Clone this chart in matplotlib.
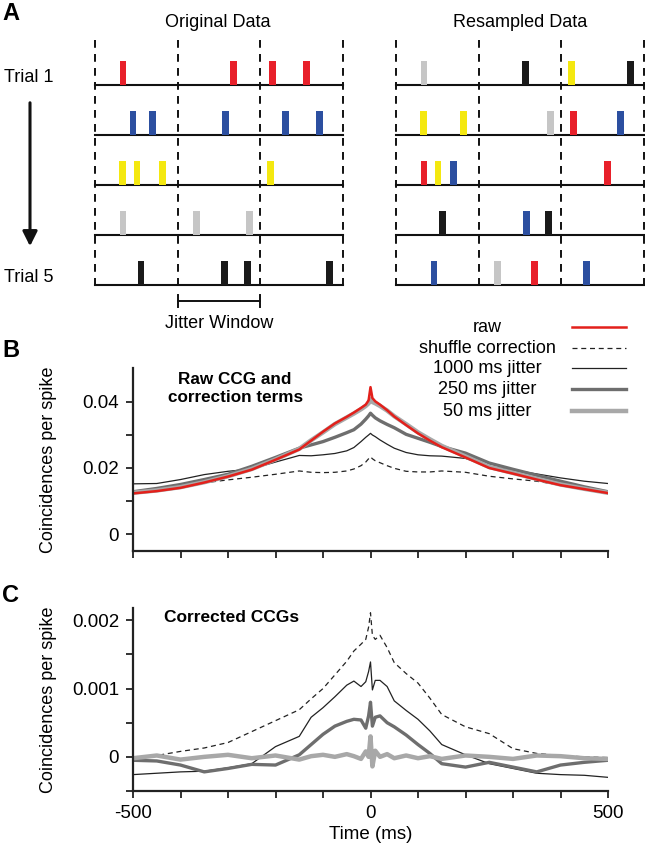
import matplotlib
matplotlib.use('Agg')
from matplotlib import pyplot as plt

plt.rcParams['font.family'] = ['Liberation Sans', 'DejaVu Sans']

# ---------------- data ----------------
# panel A: spike times in jitter-window units (each trial spans 3 windows)
orig_times = [[0.34, 1.68, 2.15, 2.56],
              [0.46, 0.70, 1.58, 2.31, 2.72],
              [0.33, 0.51, 0.82, 2.13],
              [0.34, 1.23, 1.87],
              [0.56, 1.57, 1.85, 2.84]]
orig_colors = [['r', 'r', 'r', 'r'],
               ['b', 'b', 'b', 'b', 'b'],
               ['y', 'y', 'y', 'y'],
               ['g', 'g', 'g'],
               ['k', 'k', 'k', 'k']]
resamp_times = [[0.34, 1.57, 2.13, 2.84],
                [0.33, 0.82, 1.87, 2.15, 2.72],
                [0.34, 0.51, 0.70, 2.56],
                [0.56, 1.58, 1.85],
                [0.46, 1.23, 1.68, 2.31]]
resamp_colors = [['g', 'k', 'y', 'k'],
                 ['y', 'y', 'g', 'r', 'b'],
                 ['r', 'y', 'b', 'r'],
                 ['k', 'b', 'k'],
                 ['b', 'g', 'r', 'b']]
spike_rgb = {'r': '#e8202a', 'b': '#2c4fa0', 'y': '#f4e810', 'g': '#c6c6c6', 'k': '#1a1a1a'}

# panels B and C: time lags (ms)
lag = [-500, -450, -400, -350, -300, -250, -200, -150, -125, -100, -75, -50, -35, -20, -10, -4,
       0, 4, 10, 20, 35, 50, 75, 100, 125, 150, 200, 250, 300, 350, 400, 450, 500]

# B: raw CCG and correction terms
raw = [.0123, .0130, .0140, .0156, .0174, .0195, .0225, .0256, .0283, .0310, .0335, .0355, .0368, .0382, .0392, .0405,
       .0445, .0412, .0402, .0392, .0375, .0356, .0330, .0305, .0283, .0263, .0232, .0200, .0183, .0165, .0148, .0136, .0124]
shuffle = [.0126, .0133, .0143, .0155, .0164, .0172, .0181, .0191, .0187, .0186, .0187, .0191, .0197, .0207, .0218, .0228,
           .0234, .0228, .0222, .0216, .0207, .0199, .0190, .0188, .0188, .0191, .0187, .0175, .0167, .0160, .0148, .0136, .0127]
jit1000 = [.0152, .0153, .0165, .0180, .0190, .0197, .0218, .0238, .0237, .0240, .0244, .0252, .0262, .0280, .0293, .0300,
           .0305, .0300, .0295, .0285, .0272, .0260, .0247, .0240, .0237, .0236, .0229, .0205, .0194, .0182, .0170, .0160, .0153]
jit250 = [.0128, .0138, .0150, .0165, .0181, .0205, .0232, .0260, .0270, .0280, .0293, .0307, .0316, .0333, .0348, .0358,
          .0366, .0360, .0352, .0343, .0332, .0322, .0302, .0290, .0278, .0265, .0245, .0215, .0196, .0178, .0160, .0143, .0128]
jit50 = [.0125, .0132, .0142, .0157, .0175, .0197, .0226, .0258, .0284, .0308, .0333, .0353, .0365, .0378, .0388, .0396,
         .0410, .0400, .0396, .0388, .0374, .0357, .0333, .0308, .0287, .0267, .0235, .0203, .0185, .0167, .0150, .0137, .0125]

# C: corrected CCGs
c_shuffle = [0.0, .00002, .00008, .00013, .00021, .00037, .00053, .00069, .00085, .00100, .00120, .00140, .00155, .00165, .00172, .00190,
             .00211, .00178, .00172, .00178, .00160, .00138, .00122, .00108, .00086, .00062, .00044, .00034, .00012, .00005, .00002, 0.0, -.00001]
c_1000 = [-.00026, -.00024, -.00022, -.00021, -.00016, -.00010, .00015, .00030, .00058, .00072, .00088, .00105, .00111, .00103, .00110, .00125,
          .00139, .00098, .00112, .00112, .00103, .00082, .00068, .00055, .00038, .00018, .00003, -.00010, -.00017, -.00024, -.00026, -.00027, -.00030]
c_250 = [-.00005, -.00006, -.00012, -.00022, -.00017, -.00011, -.00012, .00003, .00018, .00033, .00045, .00052, .00055, .00054, .00042, .00060,
         .00080, .00045, .00058, .00060, .00050, .00044, .00032, .00018, .00005, -.00010, -.00015, -.00008, -.00015, -.00022, -.00012, -.00008, -.00005]
c_50 = [-.00002, .00002, -.00004, 0.0, .00003, -.00002, .00002, -.00004, .00001, .00003, 0.0, .00004, .00001, -.00003, .00008, 0.0,
        .00030, -.00014, .00009, 0.0, .00004, -.00002, .00002, -.00002, .00001, -.00003, .00002, 0.0, -.00003, .00002, .00001, -.00002, -.00003]

b_yticks = [0, 0.02, 0.04]
b_ytick_labels = ['0', '0.02', '0.04']
c_yticks = [0, 0.001, 0.002]
c_ytick_labels = ['0', '0.001', '0.002']
c_xticks = [-500, 0, 500]
c_xtick_labels = ['-500', '0', '500']

legend_labels = ['raw', 'shuffle correction', '1000 ms jitter', '250 ms jitter', '50 ms jitter']

# ---------------- figure ----------------
W, H = 645, 849
fig = plt.figure(figsize=(W / 100, H / 100), dpi=100)

# overlay axes in pixel coordinates for panel A and annotations
ax0 = fig.add_axes([0, 0, 1, 1], zorder=5)
ax0.set_xlim(0, W)
ax0.set_ylim(H, 0)
ax0.axis('off')
ax0.patch.set_alpha(0)

win = 82.5
base_y = [85, 135, 185, 235, 285]
for x0, times, cols in [(95, orig_times, orig_colors), (396, resamp_times, resamp_colors)]:
    for k in range(4):
        ax0.plot([x0 + k * win] * 2, [40, 286], color='#111111', lw=1.4, dashes=(4, 3.2))
    for i in range(5):
        ax0.plot([x0, x0 + 3 * win], [base_y[i]] * 2, color='#111111', lw=1.5)
        xs = [x0 + t * win for t in times[i]]
        ax0.bar(xs, -24, bottom=base_y[i], width=6.6, color=[spike_rgb[c] for c in cols[i]], zorder=3)

ax0.text(218, 22, 'Original Data', ha='center', va='center', fontsize=13)
ax0.text(520, 22, 'Resampled Data', ha='center', va='center', fontsize=13)
ax0.text(4, 77, 'Trial 1', ha='left', va='center', fontsize=13)
ax0.text(4, 277, 'Trial 5', ha='left', va='center', fontsize=13)
ax0.annotate('', xy=(30, 249), xytext=(30, 100),
             arrowprops=dict(arrowstyle='-|>', lw=2.2, color='#111111', mutation_scale=22))
ax0.plot([177.5, 260], [301, 301], color='#111111', lw=1.4)
ax0.plot([177.5, 177.5], [295, 307], color='#111111', lw=1.4)
ax0.plot([260, 260], [295, 307], color='#111111', lw=1.4)
ax0.text(219, 323, 'Jitter Window', ha='center', va='center', fontsize=13)

ax0.text(2, 13, 'A', ha='left', va='center', fontsize=17, fontweight='bold')
ax0.text(2, 350, 'B', ha='left', va='center', fontsize=17, fontweight='bold')
ax0.text(2, 596, 'C', ha='left', va='center', fontsize=17, fontweight='bold')

# legend (drawn by hand to follow the original layout)
leg_styles = [dict(color='#e3201b', lw=1.8),
              dict(color='#222222', lw=0.9, dashes=(4, 3)),
              dict(color='#222222', lw=0.9),
              dict(color='#6e6e6e', lw=2.4),
              dict(color='#a8a8a8', lw=3.2)]
leg_y = [327, 348, 368, 389, 411]
for lab, st, y in zip(legend_labels, leg_styles, leg_y):
    ax0.text(487, y, lab, ha='center', va='center', fontsize=13)
    ax0.plot([572, 626], [y, y], **st)

ax0.text(49, 460, 'Coincidences per spike', rotation=90, ha='center', va='center', fontsize=13)
ax0.text(49, 700, 'Coincidences per spike', rotation=90, ha='center', va='center', fontsize=13)


def style_axes(ax):
    for s in ['top', 'right']:
        ax.spines[s].set_visible(False)
    for s in ['left', 'bottom']:
        ax.spines[s].set_linewidth(1.6)
        ax.spines[s].set_color('#222222')
    ax.tick_params(which='both', direction='out', length=5, width=1.3, color='#222222',
                   labelsize=13.5, pad=5)


# panel B
axB = fig.add_axes([133 / W, 1 - 551 / H, 475 / W, 183 / H])
axB.plot(lag, shuffle, color='#222222', lw=0.9, dashes=(4, 3))
axB.plot(lag, jit1000, color='#222222', lw=0.9)
axB.plot(lag, jit250, color='#6e6e6e', lw=2.4)
axB.plot(lag, jit50, color='#a8a8a8', lw=3.2)
axB.plot(lag, raw, color='#e3201b', lw=1.8)
axB.set_xlim(-500, 500)
axB.set_ylim(-0.00515, 0.0503)
axB.set_xticks(range(-500, 501, 100))
axB.set_xticklabels([])
axB.set_yticks(b_yticks)
axB.set_yticklabels(b_ytick_labels)
axB.set_yticks([0.01, 0.03], minor=True)
style_axes(axB)
axB.text(0.215, 0.89, 'Raw CCG and\ncorrection terms', transform=axB.transAxes, ha='center', va='center',
         fontsize=12.3, fontweight='bold', linespacing=1.25)

# panel C
axC = fig.add_axes([133 / W, 1 - 791 / H, 475 / W, 183 / H])
axC.plot(lag, c_shuffle, color='#222222', lw=0.9, dashes=(4, 3))
axC.plot(lag, c_1000, color='#222222', lw=0.9)
axC.plot(lag, c_250, color='#6e6e6e', lw=2.4)
axC.plot(lag, c_50, color='#a8a8a8', lw=3.2)
axC.set_xlim(-500, 500)
axC.set_ylim(-0.0005, 0.00218)
axC.set_xticks(c_xticks)
axC.set_xticklabels(c_xtick_labels)
axC.set_xticks([-400, -300, -200, -100, 100, 200, 300, 400], minor=True)
axC.set_yticks(c_yticks)
axC.set_yticklabels(c_ytick_labels)
axC.set_yticks([-0.0005, 0.0005, 0.0015], minor=True)
style_axes(axC)
axC.set_xlabel('Time (ms)', fontsize=13.5, labelpad=3)
axC.text(0.065, 0.95, 'Corrected CCGs', transform=axC.transAxes, ha='left', va='center',
         fontsize=12.5, fontweight='bold')

fig.savefig('out.png', dpi=100)
